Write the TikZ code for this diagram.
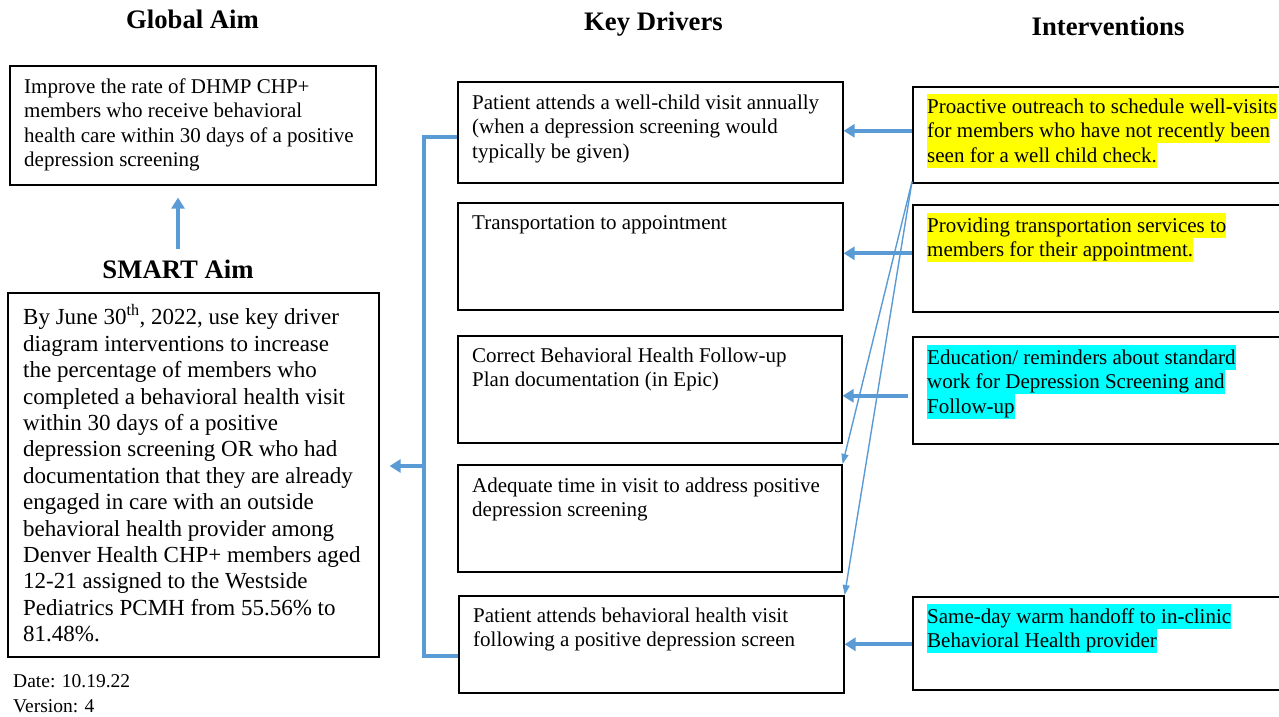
\documentclass[tikz,border=0pt]{standalone}
\usepackage{fontspec}
\setmainfont{Liberation Serif}
\newfontfamily\tnr{Liberation Serif}[Scale=0.9999]
\usetikzlibrary{arrows.meta,calc}
\definecolor{arr}{HTML}{5B9BD5}
\definecolor{hly}{HTML}{FFFF00}
\definecolor{hlc}{HTML}{00FFFF}
\newcommand{\hlY}[1]{{\setlength{\fboxsep}{0pt}\colorbox{hly}{\rule[-5.5pt]{0pt}{24.5pt}#1}}}
\newcommand{\hlC}[1]{{\setlength{\fboxsep}{0pt}\colorbox{hlc}{\rule[-5.5pt]{0pt}{24.5pt}#1}}}
\begin{document}
\begin{tikzpicture}[x=1pt,y=-1pt,
  box/.style={draw=black, line width=1.6pt, anchor=north west, inner sep=0pt, fill=none},
  body/.style={font=\tnr\fontsize{21}{24.5}\selectfont, align=left, anchor=north west, inner sep=0pt},
  smarttxt/.style={font=\tnr\fontsize{23}{26.4}\selectfont, align=left, anchor=north west, inner sep=0pt},
  small/.style={font=\tnr\fontsize{19.5}{25}\selectfont, align=left, anchor=north west, inner sep=0pt},
  hd/.style={font=\tnr\bfseries\fontsize{26.7}{30}\selectfont, anchor=base, inner sep=0pt},
  tarr/.style={draw=arr, line width=4.2pt, -{Triangle[width=13pt,length=11pt]}},
  narr/.style={draw=arr, line width=1.4pt, -{Triangle[width=7pt,length=10pt]}},
  brk/.style={draw=arr, line width=4.5pt}
]
\useasboundingbox (0,0) rectangle (1279,717);
\clip (0,0) rectangle (1279,717);
\fill[white] (0,0) rectangle (1279,717);

% headings
\node[hd] (hG) at (192.5,29) {Global Aim};
\node[hd] (hK) at (653.5,31) {Key Drivers};
\node[hd] (hI) at (1108,36) {Interventions};
\node[hd] (hS) at (178,278) {SMART Aim};

% global aim
\node[box, minimum width=366, minimum height=119] (g) at (9,65) {};
\node[body] (gt) at (24,78.5) {Improve the rate of DHMP CHP+\\members who receive behavioral\\health care within 30 days of a positive\\depression screening};

% smart aim
\node[box, minimum width=371, minimum height=364] (sm) at (7,292) {};
\node[smarttxt] (smt) at (23,304.5) {By June 30\textsuperscript{th}, 2022, use key driver\\diagram interventions to increase\\the percentage of members who\\completed a behavioral health visit\\within 30 days of a positive\\depression screening OR who had\\documentation that they are already\\engaged in care with an outside\\behavioral health provider among\\Denver Health CHP+ members aged\\12-21 assigned to the Westside\\Pediatrics PCMH from 55.56\% to\\81.48\%.};

\node[small] (date) at (13,674.5) {Date: 10.19.22\\Version: 4};

% key drivers
\node[box, minimum width=385, minimum height=101] (k1) at (457,81) {};
\node[box, minimum width=385, minimum height=107] (k2) at (457,202) {};
\node[box, minimum width=384, minimum height=107] (k3) at (457,335) {};
\node[box, minimum width=384, minimum height=107] (k4) at (457,464) {};
\node[box, minimum width=385, minimum height=97] (k5) at (458,595) {};
\node[body] (k1t) at (472,94.5) {Patient attends a well-child visit annually\\(when a depression screening would\\typically be given)};
\node[body] (k2t) at (472,215.5) {Transportation to appointment};
\node[body] (k3t) at (472,347.5) {Correct Behavioral Health Follow-up\\Plan documentation (in Epic)};
\node[body] (k4t) at (472,477.5) {Adequate time in visit to address positive\\depression screening};
\node[body] (k5t) at (473,607.5) {Patient attends behavioral health visit\\following a positive depression screen};

% interventions
\node[box, minimum width=380, minimum height=96] (i1) at (912,86) {};
\node[box, minimum width=380, minimum height=107] (i2) at (912,204) {};
\node[box, minimum width=380, minimum height=107] (i3) at (912,336) {};
\node[box, minimum width=380, minimum height=93] (i4) at (912,596) {};
\node[body] (i1t) at (927,94) {\hlY{Proactive outreach to schedule well-visits}\\\hlY{for members who have not recently been}\\\hlY{seen for a well child check.}};
\node[body] (i2t) at (927,213) {\hlY{Providing transportation services to}\\\hlY{members for their appointment.}};
\node[body] (i3t) at (927,345) {\hlC{Education/ reminders about standard}\\\hlC{work for Depression Screening and}\\\hlC{Follow-up}};
\node[body] (i4t) at (927,604) {\hlC{Same-day warm handoff to in-clinic}\\\hlC{Behavioral Health provider}};

% SMART -> Global
\coordinate (sa) at ($(hS.north)+(0,-10)$);
\coordinate (ga) at ($(g.south)+(0,12)$);
\draw[tarr] (sa) -- (sa |- ga);

% bracket from key drivers to SMART aim
\coordinate (bt) at ($(k1.west)+(0,4.5)$);
\coordinate (bb) at ($(k5.west)+(0,11.5)$);
\draw[brk] (bt) -- (bt -| 424,0) |- (bb);
\coordinate (bm) at (424,466);
\coordinate (smx) at ($(sm.east)+(10,0)$);
\draw[tarr] ([xshift=2pt]bm) -- (bm -| smx);

% interventions -> key drivers
\draw[tarr] ($(i1.west |- k1.east)+(0,-1.5)$) -- ($(k1.east)+(0,-1.5)$);
\draw[tarr] ($(i2.west |- k2.east)+(0,-3)$) -- ($(k2.east)+(0,-3)$);
\draw[tarr] ($(i3.west |- k3.east)+(-4,6.5)$) -- ($(k3.east)+(0,6.5)$);
\draw[tarr] (i4.west |- k5.east) -- (k5.east);

% thin arrows
\draw[narr] ($(i1.south west)+(0,-2)$) -- (k4.north east);
\draw[narr] ($(i1.south west)+(0,-2)$) -- (k5.north east);
\end{tikzpicture}
\end{document}
